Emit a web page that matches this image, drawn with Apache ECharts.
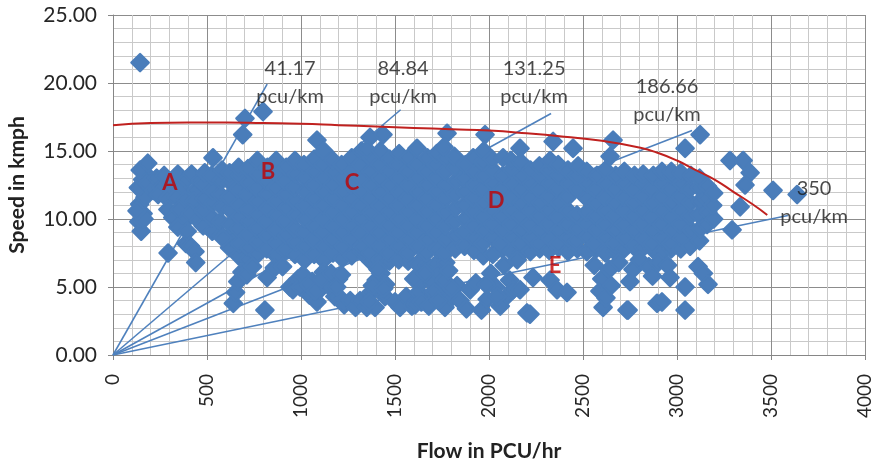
<!DOCTYPE html>
<html>
<head>
<meta charset="utf-8">
<script src="https://cdn.jsdelivr.net/npm/echarts@6/dist/echarts.min.js"></script>
<style>
  html, body { margin: 0; padding: 0; background: #fff; }
  #chart { width: 880px; height: 460px; }
</style>
</head>
<body>
<div id="chart"></div>
<script>
// Observed flow (PCU/hr) and speed (kmph) pairs, grouped by flow range
const obsZoneA = [
  [144,21.5],
  [150,9.1],[138,9.8],[160,10.4],[142,11.1],[170,11.6],[135,12.3],[158,12.9],[175,13.3],[145,13.6],[185,14.1],[165,10.0],[128,10.6],[182,12.6],
  [215,12.1],[232,13.0],[255,12.3],[272,13.2],[298,12.0],[318,12.8],[345,13.3],[366,12.2],[392,12.9],[418,13.3],[440,12.1],[462,12.8],
  [240,11.8],[290,11.5],[335,11.6],[385,11.4],[430,11.3],
  [292,10.7],[318,10.1],[352,10.7],[378,9.8],[410,10.4],[455,9.9],[470,10.8],[500,9.5],[345,9.4],
  [293,7.5],[388,8.2],[412,8.0],[436,7.6],[440,6.8],[395,9.1]
];

const obsZoneB = [
  [480,9.5],[478,10.6],[485,11.5],[482,12.6],[488,13.4],
  [528,9.1],[525,10.1],[532,11.2],[530,12.1],[524,13.2],[532,14.5],
  [575,8.8],[572,9.8],[578,10.9],[570,11.8],[576,12.8],[580,13.6],
  [620,7.9],[618,8.7],[624,9.6],[622,10.7],[616,11.6],[625,12.7],[620,13.4],
  [668,7.3],[672,8.2],[666,9.3],[674,10.2],[670,11.1],[665,12.2],[672,13.2],[668,13.8],
  [718,7.0],[722,7.9],[716,8.8],[724,9.8],[720,10.7],[715,11.8],[722,12.7],[718,13.7],
  [768,7.4],[772,8.3],[766,9.3],[774,10.4],[770,11.3],[764,12.3],[772,13.3],[768,14.3],
  [818,7.8],[822,8.8],[815,9.8],[824,10.8],[820,11.8],[816,12.8],[822,13.8],
  [868,7.3],[872,8.3],[866,9.2],[874,10.3],[870,11.3],[864,12.3],[872,13.3],[868,14.3],
  [918,7.7],[922,8.8],[916,9.8],[924,10.8],[920,11.8],[914,12.8],[922,13.8],
  [968,7.4],[972,8.3],[966,9.3],[974,10.3],[970,11.3],[964,12.3],[972,13.3],[968,14.3],
  [690,16.2],[702,17.4],[798,17.9],
  [585,8.6],[640,3.8],[652,4.6],[664,5.4],[686,6.1],[712,5.9],[742,6.5],[808,3.3],[820,5.7],[858,6.4],[902,6.5],[941,5.0],[957,4.8],[985,5.6]
];

const obsZoneC = [
  [1020,7.0],[1024,8.0],[1016,9.0],[1022,10.0],[1018,11.0],[1025,12.0],[1020,13.0],[1016,14.0],
  [1070,7.4],[1066,8.5],[1074,9.5],[1068,10.5],[1072,11.5],[1066,12.5],[1074,13.5],[1070,14.4],[1085,15.8],
  [1120,7.0],[1124,8.0],[1116,9.0],[1122,10.0],[1118,11.0],[1125,12.0],[1120,13.0],[1116,14.0],[1122,15.0],
  [1170,7.5],[1166,8.5],[1174,9.5],[1168,10.5],[1172,11.5],[1166,12.5],[1174,13.5],[1170,14.3],
  [1220,7.1],[1224,8.0],[1216,9.0],[1222,10.0],[1218,11.0],[1225,12.0],[1220,13.0],[1216,14.0],
  [1270,7.3],[1266,8.5],[1274,9.5],[1268,10.5],[1272,11.5],[1266,12.5],[1274,13.5],[1270,14.5],
  [1320,7.6],[1324,8.0],[1316,9.0],[1322,10.0],[1318,11.0],[1325,12.0],[1320,13.0],[1316,14.0],[1322,15.0],
  [1370,6.9],[1366,7.5],[1374,8.5],[1368,9.5],[1372,10.5],[1366,11.5],[1374,12.5],[1368,13.5],[1372,14.5],[1367,16.0],[1351,15.1],
  [1420,7.0],[1424,8.0],[1416,9.0],[1422,10.0],[1418,11.0],[1425,12.0],[1420,13.0],[1416,14.0],[1422,15.0],[1436,16.2],
  [1470,6.9],[1466,7.5],[1474,8.5],[1468,9.5],[1472,10.5],[1466,11.5],[1474,12.5],[1468,13.5],[1472,14.4],
  [1520,7.0],[1524,8.0],[1516,9.0],[1522,10.0],[1518,11.0],[1525,12.0],[1520,13.0],[1516,14.0],[1522,14.8],
  [1570,6.9],[1566,7.5],[1574,8.5],[1568,9.5],[1572,10.5],[1566,11.5],[1574,12.5],[1568,13.5],[1572,14.5],
  [1620,6.7],[1624,8.0],[1616,9.0],[1622,10.0],[1618,11.0],[1625,12.0],[1620,13.0],[1616,14.0],[1617,15.2],
  [1670,6.6],[1666,7.5],[1674,8.5],[1668,9.5],[1672,10.5],[1666,11.5],[1674,12.5],[1668,13.5],[1672,14.5],
  [1720,6.7],[1724,7.8],[1716,9.0],[1722,10.0],[1718,11.0],[1725,12.0],[1720,13.0],[1716,14.0],[1722,14.8],
  [1770,6.8],[1766,7.5],[1774,8.5],[1768,9.5],[1772,10.5],[1766,11.5],[1774,12.5],[1768,13.5],[1772,14.5],[1777,16.3],[1760,15.3],
  [1820,7.8],[1824,8.8],[1816,9.8],[1822,10.8],[1818,11.8],[1825,12.8],[1820,13.8],[1816,14.6],
  [1870,8.0],[1866,9.0],[1874,10.0],[1868,11.0],[1872,12.0],[1866,13.0],[1874,14.0],
  [1920,7.7],[1924,8.6],[1916,9.5],[1922,10.5],[1918,11.5],[1925,12.5],[1920,13.5],[1916,14.5],
  [995,5.0],[1010,5.9],[1045,4.4],[1060,5.4],[1085,3.9],[1100,4.8],[1120,6.1],[1132,5.6],[1154,5.0],[1180,4.3],
  [1200,5.6],[1208,4.2],[1230,3.7],[1262,4.0],[1290,3.5],[1314,4.0],[1350,3.5],[1372,4.6],[1394,3.5],[1400,5.5],
  [1425,6.0],[1447,4.3],[1450,5.2],[1500,3.9],[1527,3.5],[1560,4.3],[1590,3.6],[1607,3.7],[1625,4.6],[1645,5.4],
  [1686,4.4],[1700,5.3],[1728,6.0],[1740,4.8],[1766,3.5],[1800,4.2],[1830,5.1],[1846,4.0],[1880,3.4],[1900,4.8],[1930,5.3],
  [1040,5.2],[1075,4.7],[1110,5.6],[1160,6.0],[1190,5.0],[1215,5.9],[1380,5.1],[1410,6.3],[1440,4.9],[1362,3.9],
  [1600,5.6],[1660,6.0],[1710,4.6],[1760,5.5],[1785,6.2],[1640,3.9],[1680,3.6],[1730,4.0],[1800,4.9]
];

const obsZoneD = [
  [1970,7.3],[1966,8.2],[1974,9.2],[1968,10.2],[1972,11.2],[1966,12.2],[1974,13.2],[1968,14.2],[1979,16.2],[1972,15.0],
  [2020,7.4],[2024,8.6],[2016,9.6],[2022,10.6],[2018,11.6],[2025,12.6],[2020,13.6],[2016,14.4],
  [2070,7.8],[2066,8.2],[2074,9.2],[2068,10.2],[2072,11.2],[2066,12.2],[2074,13.2],[2075,14.5],
  [2120,7.6],[2124,8.6],[2116,9.6],[2122,10.6],[2118,11.6],[2125,12.6],[2120,13.6],[2116,14.3],[2165,15.2],
  [2170,7.5],[2166,8.2],[2174,9.2],[2168,10.2],[2172,11.2],[2166,12.2],[2174,13.2],[2168,14.2],
  [2220,7.6],[2224,8.6],[2216,9.6],[2222,10.6],[2218,11.6],[2225,12.6],[2220,13.6],
  [2270,7.8],[2266,8.2],[2274,9.2],[2268,10.2],[2272,11.2],[2266,12.2],[2274,13.2],[2268,13.9],
  [2320,7.7],[2324,8.6],[2316,9.6],[2322,10.6],[2318,11.6],[2325,12.6],[2320,13.6],[2325,14.3],[2341,15.7],
  [2370,7.9],[2366,8.2],[2374,9.2],[2368,10.2],[2372,11.2],[2366,12.2],[2374,13.2],[2368,14.0],
  [2420,7.6],[2424,8.6],[2416,9.6],[2422,10.6],[2418,11.6],[2425,12.6],[2420,13.6],[2447,15.2],
  [2470,7.8],[2466,8.4],[2474,9.3],[2468,10.3],[2472,12.2],[2466,13.2],[2474,13.9],
  [2520,7.6],[2524,8.7],[2516,9.7],[2522,10.5],[2522,11.5],[2525,12.6],[2520,13.5],
  [2570,7.8],[2566,8.2],[2574,9.2],[2568,10.2],[2572,11.2],[2566,12.2],[2574,13.2],
  [2620,7.5],[2624,8.6],[2616,9.6],[2622,10.6],[2618,11.6],[2625,12.6],[2620,13.6],[2644,14.6],[2660,15.8],
  [2670,7.6],[2666,8.2],[2674,9.2],[2668,10.2],[2672,11.2],[2666,12.2],[2674,13.2],
  [2720,7.8],[2724,8.6],[2716,9.6],[2722,10.6],[2718,11.6],[2725,12.6],[2720,13.5],
  [2770,8.0],[2774,9.2],[2768,10.2],[2772,11.2],[2766,12.2],[2774,13.2],
  [2820,7.9],[2824,8.6],[2816,9.6],[2822,10.6],[2818,11.6],[2825,12.6],[2820,13.3],
  [2870,7.8],[2866,8.2],[2874,9.2],[2868,10.2],[2872,11.2],[2866,12.2],[2874,13.2],
  [1960,3.3],[1990,4.1],[2010,6.0],[2035,5.0],[2060,3.6],[2080,6.6],[2100,4.4],[2110,5.5],[2128,4.8],[2150,7.0],
  [2165,4.8],[2202,3.1],[2218,3.0],[2234,5.7],[2325,5.5],[2362,4.8],[2415,4.6],[1985,5.2],[2045,4.3],
  [2560,6.6],[2590,4.7],[2600,5.6],[2607,3.5],[2622,4.2],[2640,6.3],[2650,5.1],[2690,6.8],[2734,3.3],[2750,5.4],
  [2766,6.3],[2800,7.0],[2850,6.5],[2870,5.8],[2894,3.8]
];

const obsZoneE = [
  [2920,7.6],[2924,8.6],[2916,9.6],[2922,10.6],[2918,11.6],[2925,12.6],[2920,13.5],
  [2970,7.8],[2966,8.2],[2974,9.2],[2968,10.2],[2972,11.2],[2966,12.2],[2974,13.2],[2970,13.5],
  [3020,7.8],[3024,8.6],[3016,9.6],[3022,10.6],[3018,11.6],[3025,12.6],[3020,13.4],
  [3070,8.0],[3074,9.2],[3068,10.2],[3072,11.2],[3066,12.2],[3074,13.2],
  [3120,8.4],[3124,9.3],[3116,10.3],[3122,11.3],[3118,12.3],[3120,13.0],
  [3160,9.6],[3164,10.5],[3158,11.5],[3162,12.4],
  [3195,10.0],[3190,11.0],[3195,11.9],
  [3043,15.2],[3123,16.2],[3282,14.3],[3352,14.3],[3389,13.4],[3362,12.5],[3511,12.1],[3639,11.8],[3336,10.9],[3293,9.2],
  [2920,3.9],[2963,5.7],[3043,5.0],[3043,3.3],[3112,6.5],[3140,6.0],[3165,5.2],[2900,6.8],[2950,6.6],[2740,3.3]
];

// Fitted speed-flow relationship (flow, speed)
const curveFlow  = [0, 200, 400, 600, 800, 1000, 1200, 1400, 1600, 1800, 2000, 2200, 2400, 2600, 2800, 2900, 3000, 3100, 3200, 3300, 3400, 3480];
const curveSpeed = [16.9, 17.05, 17.1, 17.1, 17.05, 17.0, 16.9, 16.8, 16.7, 16.6, 16.5, 16.3, 16.05, 15.75, 15.25, 14.85, 14.3, 13.6, 12.9, 12.0, 11.1, 10.3];

// Density rays (pcu/km) drawn from the origin, and the flow where each ray stops
const densities  = [41.17, 84.84, 131.25, 186.66, 350];
const rayEndFlow = [820, 1530, 2330, 3080, 3590];

// Density annotations (flow, speed of text centre)
const noteFlow  = [942, 1543, 2240, 2947, 3729];
const noteSpeed = [20.0, 20.0, 20.0, 18.7, 11.2];

// Regime letters
const regimeNames = ['A', 'B', 'C', 'D', 'E'];
const regimeFlow  = [303, 825, 1271, 2038, 2351];
const regimeSpeed = [12.65, 13.46, 12.65, 11.3, 6.54];

const observations = [].concat(obsZoneA, obsZoneB, obsZoneC, obsZoneD, obsZoneE);
const curveData = curveFlow.map((f, i) => [f, curveSpeed[i]]);

const FONT = 'Lato, "Open Sans", sans-serif';
const BLUE = '#4a7dba';
const MARKER_HALF = 8.6;   // half diagonal of each diamond (before the outline), px

const raySeries = densities.map((k, i) => ({
  type: 'line',
  data: [[0, 0], [rayEndFlow[i], rayEndFlow[i] / k]],
  symbol: 'none',
  lineStyle: { color: '#4f81bd', width: 1.6 },
  z: 1,
  silent: true
}));

// Solid diamond markers placed through the cartesian scales
function renderDiamond(params, api) {
  const p = api.coord([api.value(0), api.value(1)]);
  const h = MARKER_HALF;
  return {
    type: 'polygon',
    shape: { points: [[p[0], p[1] - h], [p[0] + h, p[1]], [p[0], p[1] + h], [p[0] - h, p[1]]] },
    style: { fill: BLUE, stroke: BLUE, lineWidth: 2.4, lineJoin: 'round', opacity: 1 }
  };
}

const chart = echarts.init(document.getElementById('chart'), null, { renderer: 'canvas' });

chart.setOption({
  animation: false,
  backgroundColor: '#fff',
  grid: { left: 113, right: 15, top: 15, bottom: 105, outerBoundsMode: 'none', containLabel: false },
  xAxis: {
    type: 'value',
    min: 0, max: 4000, interval: 500,
    name: 'Flow in PCU/hr',
    nameLocation: 'middle',
    nameGap: 86,
    nameTextStyle: { fontFamily: FONT, fontWeight: 'bold', fontSize: 21, color: '#222' },
    axisLine: { show: true, lineStyle: { color: '#868686', width: 1 } },
    axisTick: { show: true, length: 5, lineStyle: { color: '#868686' } },
    minorTick: { show: false, splitNumber: 5 },
    splitLine: { show: true, lineStyle: { color: '#8c8c8c', width: 1 } },
    minorSplitLine: { show: true, lineStyle: { color: '#c9c9c9', width: 1 } },
    axisLabel: { rotate: 90, margin: 19, fontFamily: FONT, fontSize: 19, color: '#262626', formatter: v => String(v) }
  },
  yAxis: {
    type: 'value',
    min: 0, max: 25, interval: 5,
    name: 'Speed in kmph',
    nameLocation: 'middle',
    nameRotate: 90,
    nameGap: 85,
    nameTextStyle: { fontFamily: FONT, fontWeight: 'bold', fontSize: 21, color: '#222' },
    axisLine: { show: true, lineStyle: { color: '#868686', width: 1 } },
    axisTick: { show: true, length: 5, lineStyle: { color: '#868686' } },
    minorTick: { show: false, splitNumber: 5 },
    splitLine: { show: true, lineStyle: { color: '#8c8c8c', width: 1 } },
    minorSplitLine: { show: true, lineStyle: { color: '#c9c9c9', width: 1 } },
    axisLabel: { margin: 16, fontFamily: FONT, fontSize: 21, color: '#262626', formatter: v => v.toFixed(2) }
  },
  series: [
    ...raySeries,
    {
      type: 'custom',
      data: observations,
      encode: { x: 0, y: 1 },
      renderItem: renderDiamond,
      z: 2,
      silent: true
    },
    {
      type: 'line',
      data: curveData,
      smooth: true,
      symbol: 'none',
      lineStyle: { color: '#c0211f', width: 2 },
      z: 3,
      silent: true
    },
    {
      type: 'scatter',
      data: noteFlow.map((f, i) => ({ value: [f, noteSpeed[i]], name: densities[i] + '\npcu/km' })),
      symbolSize: 0,
      z: 5,
      silent: true,
      label: {
        show: true, position: 'inside',
        formatter: p => p.name,
        fontFamily: FONT, fontSize: 20, lineHeight: 28, color: '#1a1a1a', align: 'center'
      }
    },
    {
      type: 'scatter',
      data: regimeFlow.map((f, i) => ({ value: [f, regimeSpeed[i]], name: regimeNames[i] })),
      symbolSize: 0,
      z: 5,
      silent: true,
      label: {
        show: true, position: 'inside',
        formatter: p => p.name,
        fontFamily: FONT, fontSize: 22, fontWeight: 'bold', color: '#c00000'
      }
    }
  ]
});
</script>
</body>
</html>
